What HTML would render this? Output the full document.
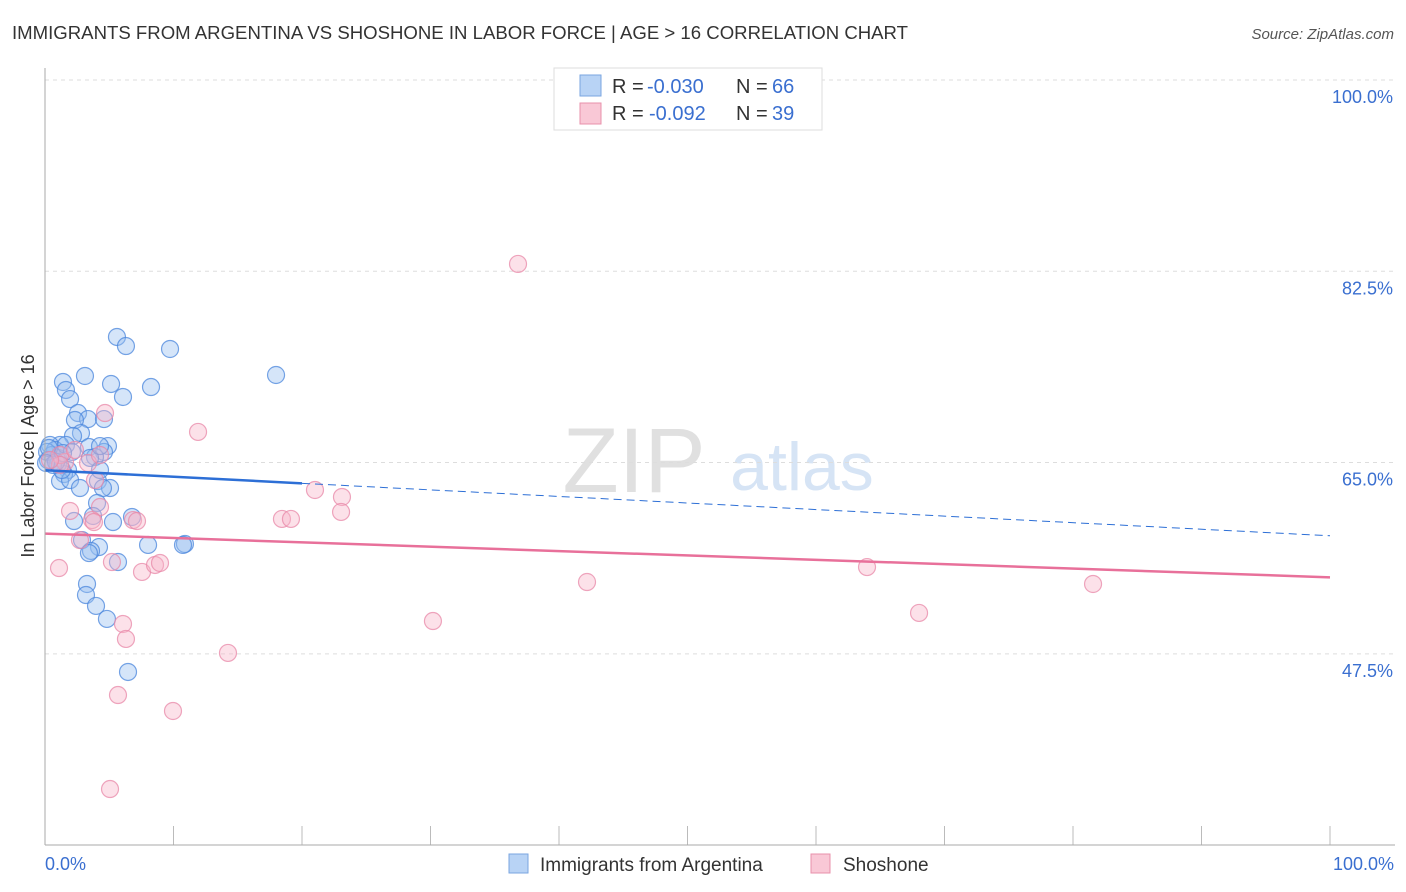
<!DOCTYPE html>
<html><head><meta charset="utf-8"><style>
body{margin:0;background:#fff;font-family:"Liberation Sans",sans-serif;}
#wrap{position:relative;width:1406px;height:892px;overflow:hidden;}
svg text{font-family:"Liberation Sans",sans-serif;}
</style></head><body><div id="wrap">
<svg id="svg" width="1406" height="892">
<text x="12" y="39" font-size="18" fill="#333" textLength="896" lengthAdjust="spacingAndGlyphs">IMMIGRANTS FROM ARGENTINA VS SHOSHONE IN LABOR FORCE | AGE &gt; 16 CORRELATION CHART</text>
<text x="1394" y="39" font-size="15" fill="#555" font-style="italic" text-anchor="end">Source: ZipAtlas.com</text>
<text x="634" y="492" font-size="92" fill="#e0e0e0" font-family="Liberation Serif" text-anchor="middle">ZIP</text>
<text x="802" y="490" font-size="68" fill="#d6e4f5" text-anchor="middle">atlas</text>
<g id="grid"></g><g id="pts"></g><g id="lines"></g>
<line x1="45" y1="68" x2="45" y2="845" stroke="#aaa"/>
<line x1="45" y1="845" x2="1395" y2="845" stroke="#aaa"/>
<text transform="translate(34,456) rotate(-90)" font-size="18" fill="#333" text-anchor="middle">In Labor Force | Age &gt; 16</text>
<text x="45" y="870" font-size="18" fill="#3a6fd0">0.0%</text>
<text x="1394" y="870" font-size="18" fill="#3a6fd0" text-anchor="end">100.0%</text>
<g>
<rect x="509" y="854" width="19" height="19" fill="#b8d3f5" stroke="#7aa6e0"/>
<text x="540" y="871" font-size="19" fill="#333">Immigrants from Argentina</text>
<rect x="811" y="854" width="19" height="19" fill="#f9c8d6" stroke="#e890ab"/>
<text x="843" y="871" font-size="19" fill="#333">Shoshone</text>
</g>
<g>
<rect x="554" y="68" width="268" height="62" fill="#fff" stroke="#ddd"/>
<rect x="580" y="75" width="21" height="21" fill="#b8d3f5" stroke="#7aa6e0"/>
<rect x="580" y="103" width="21" height="21" fill="#f9c8d6" stroke="#e890ab"/>
<text x="612" y="93" font-size="20" fill="#333">R =</text>
<text x="647" y="93" font-size="20" fill="#3a6fd0">-0.030</text>
<text x="736" y="93" font-size="20" fill="#333">N =</text>
<text x="772" y="93" font-size="20" fill="#3a6fd0">66</text>
<text x="612" y="120" font-size="20" fill="#333">R =</text>
<text x="649" y="120" font-size="20" fill="#3a6fd0">-0.092</text>
<text x="736" y="120" font-size="20" fill="#333">N =</text>
<text x="772" y="120" font-size="20" fill="#3a6fd0">39</text>
</g>
</svg></div>
<script>
const yTicks=[100,82.5,65,47.5];
const xTickVals=[0,10,20,30,40,50,60,70,80,90,100];
const bluePx=[[117,337],[126,346],[170,349],[276,375],[63,382],[85,376],[111,384],[151,387],[66,390],[70,399],[123,397],[78,413],[88,419],[104,419],[75,420],[81,433],[73,436],[108,446],[89,447],[104,452],[60,445],[50,445],[55,450],[52,455],[48,460],[58,458],[47,452],[95,457],[68,470],[64,474],[60,481],[70,480],[98,481],[110,488],[80,488],[103,488],[97,503],[93,516],[132,517],[113,522],[74,521],[82,540],[148,545],[99,547],[91,551],[89,553],[185,544],[183,545],[118,562],[87,584],[86,595],[96,606],[107,619],[128,672],[58,464],[62,470],[53,465],[49,448],[66,445],[90,458],[56,462],[100,470],[72,452],[46,463],[63,453],[100,446]];
const pinkPx=[[518,264],[105,413],[198,432],[65,462],[88,463],[60,455],[100,455],[315,490],[342,497],[341,512],[70,511],[100,507],[282,519],[291,519],[133,520],[137,521],[92,520],[80,540],[59,568],[112,562],[142,572],[155,565],[160,563],[587,582],[867,567],[1093,584],[433,621],[919,613],[123,624],[126,639],[228,653],[118,695],[173,711],[110,789],[95,480],[60,465],[50,460],[75,450],[94,522]];
const blueX=bluePx.map(p=>+((p[0]-45)/12.85).toFixed(2));
const blueY=bluePx.map(p=>+(100-(p[1]-80)/10.93).toFixed(2));
const pinkX=pinkPx.map(p=>+((p[0]-45)/12.85).toFixed(2));
const pinkY=pinkPx.map(p=>+(100-(p[1]-80)/10.93).toFixed(2));
const blueTrend=[64.3,58.3];
const pinkTrend=[58.5,54.5];
const blueSolidEnd=20;
const X=v=>45+v*12.85, Y=v=>80+(100-v)*10.93;
const NS='http://www.w3.org/2000/svg';
function mk(t,a,parent){const e=document.createElementNS(NS,t);for(const k in a)e.setAttribute(k,a[k]);parent.appendChild(e);return e;}
const grid=document.getElementById('grid');
yTicks.forEach(v=>{
 const l=mk('line',{x1:45,x2:1395,y1:Y(v),y2:Y(v),stroke:'#ddd','stroke-dasharray':'4,4'},grid);
 
 
 const t=mk('text',{x:1393,y:Y(v)+23,'font-size':18,fill:'#3a6fd0','text-anchor':'end'},grid);
 t.textContent=v.toFixed(1)+'%';
 
 
});
xTickVals.forEach(v=>{
 const l=mk('line',{x1:X(v),x2:X(v),y1:826,y2:845,stroke:'#bbb'},grid);
 
 
});
const pts=document.getElementById('pts');
blueX.forEach((x,i)=>{
 const c=mk('circle',{cx:X(x),cy:Y(blueY[i]),r:8.5,fill:'rgba(150,190,240,0.4)',stroke:'#4a86dc','stroke-width':1.2,'stroke-opacity':0.75},pts);
 
 
});
pinkX.forEach((x,i)=>{
 const c=mk('circle',{cx:X(x),cy:Y(pinkY[i]),r:8.5,fill:'rgba(248,180,200,0.4)',stroke:'#e888a8','stroke-width':1.2,'stroke-opacity':0.75},pts);
 
 
});
const lines=document.getElementById('lines');
const by=x=>blueTrend[0]+(blueTrend[1]-blueTrend[0])*x/100;
let l1=mk('line',{x1:X(0),y1:Y(by(0)),x2:X(blueSolidEnd),y2:Y(by(blueSolidEnd)),stroke:'#2d6fd6','stroke-width':2.5},lines);


let l2=mk('line',{x1:X(blueSolidEnd),y1:Y(by(blueSolidEnd)),x2:X(100),y2:Y(by(100)),stroke:'#2d6fd6','stroke-width':1,'stroke-dasharray':'8,5'},lines);


let l3=mk('line',{x1:X(0),y1:Y(pinkTrend[0]),x2:X(100),y2:Y(pinkTrend[1]),stroke:'#e8709a','stroke-width':2.5},lines);


</script></body></html>
